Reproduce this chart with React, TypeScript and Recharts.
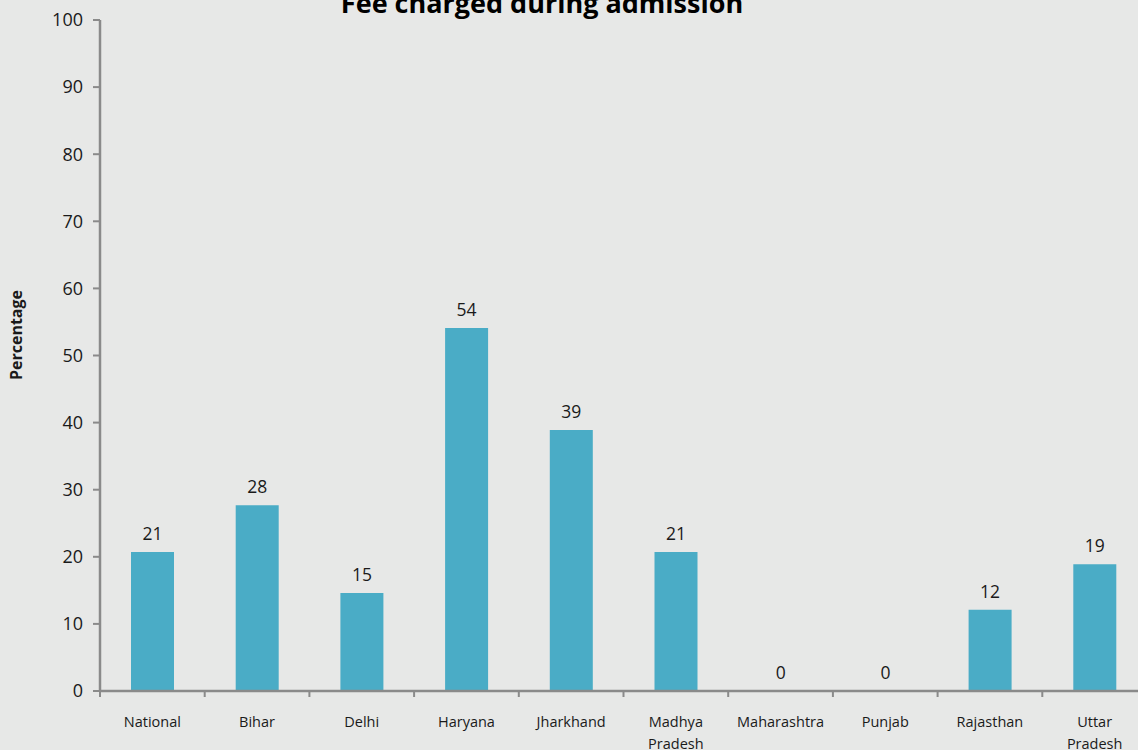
import { BarChart, Bar, XAxis, YAxis, LabelList } from 'recharts'

const states = [
  'National',
  'Bihar',
  'Delhi',
  'Haryana',
  'Jharkhand',
  'Madhya Pradesh',
  'Maharashtra',
  'Punjab',
  'Rajasthan',
  'Uttar Pradesh',
]
const feeCharged = [20.7, 27.7, 14.6, 54.1, 38.9, 20.7, 0, 0, 12.1, 18.9]
const yTicks = [0, 10, 20, 30, 40, 50, 60, 70, 80, 90, 100]

const data = states.map((name, i) => ({ name, fee: feeCharged[i] }))

const FONT = '"Open Sans", sans-serif'
const AXIS = '#8a8a8a'
const W = 1160
const H = 750
const M = { top: 20, right: 13, left: 0, bottom: 9 }
const Y_W = 100
const BAND = (W - M.left - M.right - Y_W) / states.length

// category labels wrap onto two lines, ticks sit on the band edges
function CategoryTick(props: any) {
  const { x, y, payload, index } = props
  const words = String(payload.value).split(' ')
  const lines = words.length > 1 ? words : [payload.value]
  const left = x - BAND / 2
  return (
    <g>
      <line x1={left} x2={left} y1={y - 6} y2={y} stroke={AXIS} strokeWidth={2} />
      {index === states.length - 1 && (
        <line x1={left + BAND} x2={left + BAND} y1={y - 6} y2={y} stroke={AXIS} strokeWidth={2} />
      )}
      <text x={x} y={y + 30} textAnchor="middle" fontFamily={FONT} fontSize={14.5} fill="#1a1a1a">
        {lines.map((l: string, i: number) => (
          <tspan key={i} x={x} dy={i === 0 ? 0 : 22}>
            {l}
          </tspan>
        ))}
      </text>
    </g>
  )
}

function YTitle() {
  return (
    <text
      x={0}
      y={0}
      transform="translate(22, 335) rotate(-90)"
      textAnchor="middle"
      fontFamily={FONT}
      fontSize={16}
      fontWeight={700}
      fill="#1a1a1a"
    >
      Percentage
    </text>
  )
}

export default function App() {
  return (
    <div
      style={{
        position: 'absolute',
        left: 0,
        top: 0,
        width: 1138,
        height: 750,
        overflow: 'hidden',
        background: '#e7e8e7',
      }}
    >
      <BarChart width={W} height={H} data={data} margin={M}>
        <text
          x={542}
          y={13}
          textAnchor="middle"
          fontFamily={FONT}
          fontWeight={700}
          fontSize={27}
          fill="#000"
        >
          Fee charged during admission
        </text>
        <YTitle />
        <XAxis
          dataKey="name"
          interval={0}
          height={50}
          axisLine={{ stroke: AXIS, strokeWidth: 2.5 }}
          tickLine={false}
          tickSize={6}
          tickMargin={0}
          tick={<CategoryTick />}
        />
        <YAxis
          domain={[0, 100]}
          ticks={yTicks}
          interval={0}
          width={Y_W}
          axisLine={{ stroke: AXIS, strokeWidth: 2.5 }}
          tickLine={{ stroke: AXIS, strokeWidth: 2 }}
          tickSize={7}
          tickMargin={10}
          tick={{ fontFamily: FONT, fontSize: 18, fill: '#1a1a1a' }}
        />
        <Bar dataKey="fee" fill="#4aacc6" barSize={43} minPointSize={0.01} isAnimationActive={false}>
          <LabelList
            dataKey="fee"
            position="top"
            offset={12}
            formatter={(v: any) => String(Math.round(Number(v)))}
            style={{ fontFamily: FONT, fontSize: 17.5, fill: '#1a1a1a' }}
          />
        </Bar>
      </BarChart>
    </div>
  )
}
